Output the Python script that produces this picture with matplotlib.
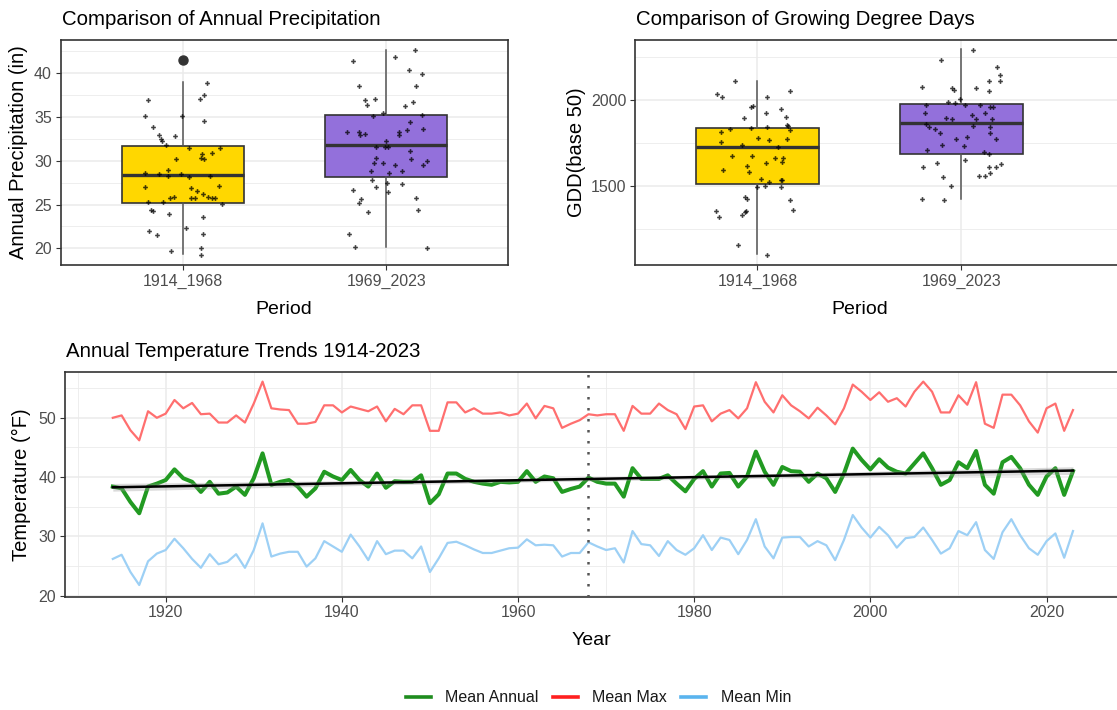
import numpy as np
import matplotlib
matplotlib.use("Agg")
import matplotlib.pyplot as plt
from matplotlib.lines import Line2D
from matplotlib.ticker import MultipleLocator, FixedLocator

plt.rcParams['font.family'] = ['Liberation Sans', 'DejaVu Sans']

# ---------------- data ----------------
periods = ['1914_1968', '1969_2023']

# annual precipitation (in): jitter offset and value of each year
precip_early_jit = [-0.172, -0.185, -0.146, -0.116, -0.105, -0.100, -0.084, -0.038, -0.005, 0.085,
                    0.105, 0.106, 0.121, 0.031, -0.033, -0.075, -0.115, -0.185, -0.185, -0.075,
                    -0.011, 0.029, 0.039, 0.072, 0.092, 0.103, 0.095, 0.143, 0.183, 0.134,
                    0.180, 0.124, 0.098, 0.061, 0.039, 0.144, 0.159, 0.193, -0.062, -0.044,
                    -0.095, -0.172, -0.157, -0.144, -0.070, -0.165, -0.128, 0.015, 0.098, 0.097,
                    -0.057, 0.092, 0.092]
precip_early = [37.0, 35.1, 33.9, 33.0, 32.5, 32.3, 31.8, 32.8, 35.1, 37.1,
                37.5, 34.6, 38.9, 31.5, 30.2, 28.9, 28.5, 28.6, 27.0, 28.3,
                28.5, 28.1, 26.9, 26.5, 30.3, 30.2, 30.8, 30.9, 31.5, 28.3,
                27.1, 25.9, 26.2, 25.7, 25.7, 25.8, 25.7, 25.1, 25.8, 25.9,
                25.3, 25.3, 24.4, 24.3, 23.9, 22.0, 21.5, 22.3, 23.6, 21.6,
                19.7, 20.0, 19.2]
precip_late_jit = [-0.161, -0.136, -0.103, -0.095, -0.057, 0.044, 0.110, 0.139, 0.175, 0.147,
                   0.090, 0.134, 0.175, 0.115, 0.102, 0.061, 0.061, 0.000, -0.018, -0.067,
                   -0.193, -0.133, -0.128, -0.106, -0.049, -0.051, -0.062, -0.074, -0.016, -0.005,
                   0.008, 0.041, 0.015, 0.077, 0.118, 0.123, 0.180, 0.200, 0.183, -0.070,
                   -0.051, 0.003, 0.007, 0.077, -0.161, -0.123, -0.136, -0.090, 0.147, 0.154,
                   -0.185, -0.152, 0.200]
precip_late = [41.4, 38.6, 36.9, 36.4, 37.1, 41.9, 40.4, 42.7, 39.9, 38.5,
               36.3, 36.7, 35.2, 34.4, 33.5, 33.3, 33.0, 32.3, 35.5, 35.1,
               33.3, 33.3, 33.0, 33.1, 31.6, 30.3, 29.7, 28.8, 29.7, 31.6,
               31.6, 29.5, 28.6, 28.8, 31.1, 30.2, 33.6, 30.0, 29.5, 27.8,
               27.0, 27.5, 26.4, 27.4, 26.7, 25.6, 25.2, 24.1, 25.7, 24.4,
               21.6, 20.2, 20.0]
# box statistics: lower whisker, Q1, median, Q3, upper whisker
precip_box = [[19.35, 25.2, 28.4, 31.7, 39.0], [20.1, 28.1, 31.8, 35.2, 42.7]]
precip_outliers = [[41.5], []]

# growing degree days (base 50)
gdd_early_jit = [-0.111, -0.196, -0.172, 0.162, 0.049, -0.021, -0.029, -0.067, 0.044, 0.114,
                 0.139, 0.147, 0.162, 0.150, 0.049, -0.033, -0.136, -0.176, -0.176, 0.003,
                 -0.074, 0.056, 0.101, 0.147, -0.124, -0.026, 0.085, 0.127, 0.121, 0.044,
                 -0.049, -0.042, -0.170, 0.018, 0.056, 0.114, 0.121, 0.036, 0.000, 0.114,
                 -0.059, -0.051, 0.162, 0.173, -0.201, -0.188, -0.074, -0.062, -0.054, -0.093,
                 0.049]
gdd_early = [2110, 2035, 2019, 2054, 2019, 1965, 1961, 1895, 1926, 1946,
             1903, 1853, 1826, 1849, 1845, 1839, 1831, 1812, 1758, 1781,
             1736, 1765, 1725, 1773, 1674, 1674, 1665, 1663, 1640, 1632,
             1618, 1583, 1591, 1543, 1525, 1535, 1535, 1502, 1496, 1492,
             1434, 1424, 1419, 1362, 1355, 1320, 1330, 1347, 1353, 1155,
             1097]
gdd_late_jit = [0.057, -0.098, 0.175, 0.188, 0.188, 0.136, -0.193, -0.044, -0.038, 0.070,
                0.136, -0.007, -0.065, -0.033, -0.175, 0.016, 0.090, 0.142, 0.155, -0.180,
                0.054, 0.114, -0.074, -0.044, 0.074, 0.152, -0.172, -0.160, -0.131, 0.057,
                0.142, -0.103, 0.142, -0.028, 0.025, 0.168, -0.095, 0.013, -0.168, 0.109,
                0.134, 0.020, -0.118, -0.188, 0.136, 0.168, 0.193, 0.142, 0.114, 0.085,
                -0.090, -0.049, -0.193, -0.085]
gdd_late = [2291, 2233, 2194, 2145, 2111, 2111, 2078, 2068, 2058, 2068,
            2054, 2004, 1986, 1981, 1969, 1969, 1969, 1961, 1961, 1923,
            1915, 1923, 1897, 1890, 1890, 1890, 1859, 1845, 1833, 1849,
            1845, 1806, 1806, 1773, 1783, 1773, 1740, 1733, 1707, 1700,
            1684, 1649, 1634, 1609, 1609, 1609, 1626, 1578, 1560, 1560,
            1552, 1502, 1426, 1419]
gdd_box = [[1105, 1512, 1729, 1837, 2112], [1423, 1688, 1868, 1977, 2295]]

# annual temperatures (°F), 1914-2023
years = np.arange(1914, 2024)
mean_max = [50.0, 50.4, 47.9, 46.2, 51.1, 50.0, 50.7, 53.0, 51.6, 52.5,
            50.6, 50.7, 49.2, 49.2, 50.4, 49.2, 52.4, 56.1, 51.6, 51.4,
            51.3, 49.0, 49.0, 49.3, 52.1, 52.1, 50.9, 51.9, 51.5, 51.1,
            51.9, 49.4, 51.5, 50.6, 52.1, 52.1, 47.8, 47.8, 52.6, 52.6,
            50.9, 51.6, 50.7, 50.7, 50.9, 50.4, 50.7, 52.4, 49.9, 52.0,
            51.6, 48.3, 49.0, 49.6, 50.6, 50.4, 50.6, 50.6, 47.8, 52.0,
            50.7, 50.7, 52.4, 51.3, 50.6, 48.1, 51.9, 52.1, 49.4, 50.7,
            51.3, 49.9, 51.6, 56.0, 52.7, 50.9, 53.8, 52.1, 51.1, 49.9,
            51.7, 50.4, 48.9, 51.6, 55.6, 54.4, 53.0, 54.3, 52.7, 53.3,
            51.9, 54.4, 56.1, 54.4, 50.9, 50.9, 53.8, 52.2, 56.0, 49.0,
            48.3, 53.9, 53.9, 52.1, 49.4, 47.5, 51.6, 52.4, 47.8, 51.3]
mean_annual = [38.4, 38.1, 35.8, 33.9, 38.4, 38.9, 39.5, 41.3, 39.8, 39.2,
               37.5, 39.2, 37.2, 37.4, 38.4, 37.0, 39.8, 44.0, 38.7, 39.2,
               39.5, 38.4, 36.7, 38.1, 40.9, 40.1, 39.5, 41.2, 39.5, 38.4,
               40.6, 38.2, 39.3, 39.2, 39.2, 40.3, 35.6, 37.1, 40.6, 40.6,
               39.7, 39.2, 38.9, 38.7, 39.2, 39.1, 39.2, 41.0, 39.2, 40.1,
               39.8, 37.5, 38.0, 38.4, 39.9, 39.2, 38.9, 38.9, 36.7, 41.5,
               39.7, 39.7, 39.7, 40.3, 38.9, 37.6, 39.7, 41.0, 38.4, 40.6,
               40.7, 38.4, 40.1, 44.3, 40.9, 38.7, 41.7, 41.0, 40.9, 39.2,
               40.6, 39.8, 37.5, 40.6, 44.8, 42.9, 41.3, 43.0, 41.6, 40.9,
               40.6, 42.3, 44.0, 41.5, 38.7, 39.5, 42.5, 41.5, 44.4, 38.7,
               37.2, 42.5, 43.4, 41.5, 38.7, 37.0, 40.1, 41.5, 37.0, 41.0]
mean_min = [26.2, 26.9, 24.0, 21.8, 25.8, 27.1, 27.7, 29.6, 28.0, 26.2,
            24.7, 27.0, 25.3, 25.7, 27.0, 24.7, 27.7, 32.2, 26.6, 27.1,
            27.4, 27.4, 24.9, 26.3, 29.2, 28.3, 27.4, 30.3, 28.3, 26.0,
            29.2, 27.0, 27.6, 27.6, 26.3, 28.3, 24.0, 26.3, 28.9, 29.1,
            28.5, 27.8, 27.2, 27.2, 27.6, 28.0, 28.1, 29.5, 28.5, 28.6,
            28.5, 26.6, 27.2, 27.2, 29.0, 28.3, 27.7, 28.0, 25.6, 30.9,
            28.7, 28.5, 26.7, 29.2, 27.7, 26.9, 28.0, 30.2, 27.7, 29.8,
            29.4, 27.0, 29.4, 32.9, 28.3, 26.3, 29.8, 29.9, 29.9, 28.3,
            29.2, 28.5, 26.0, 29.4, 33.6, 31.5, 29.8, 31.6, 30.2, 28.1,
            29.7, 29.9, 31.5, 29.4, 27.1, 28.0, 30.9, 30.2, 32.4, 27.7,
            26.2, 30.7, 32.9, 30.2, 28.0, 26.9, 29.2, 30.5, 26.4, 30.9]
split_year = 1968

# ---------------- styling ----------------
W, H = 1117, 710
BOX_COLORS = ['#FFD700', '#9370DB']
GRID = '#EBEBEB'
EDGE = '#333333'
TICKLAB = '#4D4D4D'


def rect(l, t, r, b):
    return [l / W, 1 - b / H, (r - l) / W, (b - t) / H]


def px_text(fig, x, y, s, **kw):
    fig.text(x / W, 1 - y / H, s, **kw)


def style_axes(ax):
    ax.set_axisbelow(True)
    for sp in ax.spines.values():
        sp.set_color(EDGE)
        sp.set_linewidth(1.2)
    ax.grid(True, which='major', color=GRID, lw=1.1)
    ax.grid(True, which='minor', color=GRID, lw=0.6)
    ax.tick_params(which='major', length=3.3, width=0.8, color=EDGE,
                   labelcolor=TICKLAB, labelsize=11.5, pad=3)
    ax.tick_params(which='minor', length=0)


def box_panel(ax, box, outliers, jits, vals):
    stats = []
    for i, b in enumerate(box):
        stats.append(dict(whislo=b[0], q1=b[1], med=b[2], q3=b[3], whishi=b[4],
                          fliers=outliers[i]))
    bp = ax.bxp(stats, positions=[1, 2], widths=0.6, patch_artist=True,
                showcaps=False,
                boxprops=dict(edgecolor=EDGE, lw=1.2),
                medianprops=dict(color=EDGE, lw=2.4),
                whiskerprops=dict(color='#555555', lw=1.1),
                flierprops=dict(marker='o', markersize=6.5, markerfacecolor=EDGE,
                                markeredgecolor=EDGE))
    for patch, c in zip(bp['boxes'], BOX_COLORS):
        patch.set_facecolor(c)
    for i, (jit, v) in enumerate(zip(jits, vals)):
        ax.plot(np.array(jit) + i + 1, v, ls='none', marker='P', markersize=3.4,
                markeredgewidth=0, color='black', alpha=0.75, zorder=5)
    ax.set_xlim(0.4, 2.6)
    ax.set_xticks([1, 2])
    ax.set_xticklabels(periods)


fig = plt.figure(figsize=(W / 100, H / 100), dpi=100)

# ---- precipitation box plot ----
ax1 = fig.add_axes(rect(60.7, 40, 508.3, 265))
box_panel(ax1, precip_box, precip_outliers,
          [precip_early_jit, precip_late_jit], [precip_early, precip_late])
ax1.set_ylim(18.1, 43.8)
ax1.yaxis.set_major_locator(MultipleLocator(5))
ax1.yaxis.set_minor_locator(FixedLocator(np.arange(22.5, 45, 5)))
style_axes(ax1)
px_text(fig, 62, 25, 'Comparison of Annual Precipitation', fontsize=14.7, va='baseline')
px_text(fig, 19, 152.5, 'Annual Precipitation (in)', fontsize=14.5, rotation=90,
        ha='center', va='center')
px_text(fig, 284, 314, 'Period', fontsize=14, ha='center', va='baseline')

# ---- GDD box plot ----
ax2 = fig.add_axes(rect(635, 40, 1125, 265))
box_panel(ax2, gdd_box, [[], []], [gdd_early_jit, gdd_late_jit], [gdd_early, gdd_late])
ax2.set_xlim(0.4, 0.4 + (1125 - 635) / 204.0)
ax2.set_ylim(1041, 2349)
ax2.yaxis.set_major_locator(FixedLocator([1500, 2000]))
ax2.yaxis.set_minor_locator(FixedLocator([1250, 1750, 2250]))
style_axes(ax2)
px_text(fig, 636, 25, 'Comparison of Growing Degree Days', fontsize=14.7, va='baseline')
px_text(fig, 576, 152.5, 'GDD(base 50)', fontsize=14.5, rotation=90,
        ha='center', va='center')
px_text(fig, 860, 314, 'Period', fontsize=14, ha='center', va='baseline')

# ---- temperature trends ----
ax3 = fig.add_axes(rect(64.8, 372.3, 1121, 596.7))
ax3.plot(years, mean_max, color='#FF6F6F', lw=1.6, zorder=3)
ax3.plot(years, mean_min, color='#9DD0F5', lw=1.6, zorder=3)
ax3.plot(years, mean_annual, color='#229A22', lw=2.9, zorder=4)

# linear trend of the annual mean with 95% confidence band
x = years.astype(float)
y = np.asarray(mean_annual)
slope, icpt = np.polyfit(x, y, 1)
fit = slope * x + icpt
resid = y - fit
n = len(x)
s = np.sqrt(np.sum(resid ** 2) / (n - 2))
se = s * np.sqrt(1 / n + (x - x.mean()) ** 2 / np.sum((x - x.mean()) ** 2))
ax3.fill_between(x, fit - 1.98 * se, fit + 1.98 * se, color='#999999', alpha=0.35,
                 lw=0, zorder=4.5)
ax3.plot(x, fit, color='black', lw=1.8, zorder=5)

ax3.axvline(split_year, color='#555555', lw=1.8, ls=(0, (1, 3.4)), zorder=6)

ax3.set_xlim(1908.55, 2028.45)
ax3.set_ylim(19.83, 57.67)
ax3.xaxis.set_major_locator(FixedLocator(np.arange(1920, 2030, 20)))
ax3.xaxis.set_minor_locator(FixedLocator(np.arange(1910, 2040, 20)))
ax3.yaxis.set_major_locator(FixedLocator([20, 30, 40, 50]))
ax3.yaxis.set_minor_locator(FixedLocator([25, 35, 45, 55]))
style_axes(ax3)
px_text(fig, 65.7, 356.7, 'Annual Temperature Trends 1914-2023', fontsize=14.7,
        va='baseline')
px_text(fig, 21, 484.5, 'Temperature (°F)', fontsize=14.5, rotation=90,
        ha='center', va='center')
px_text(fig, 591, 645, 'Year', fontsize=14, ha='center', va='baseline')

handles = [Line2D([], [], color='#1E8C1E', lw=2.6),
           Line2D([], [], color='#FF2020', lw=2.6),
           Line2D([], [], color='#5AB4EE', lw=2.6)]
fig.legend(handles, ['Mean Annual', 'Mean Max', 'Mean Min'], loc='center',
           bbox_to_anchor=(598.5 / W, 1 - 698 / H), ncol=3, frameon=False,
           fontsize=11.5, handlelength=1.56, handletextpad=0.9, columnspacing=0.9,
           labelcolor='#1A1A1A')

fig.savefig('out.png', dpi=100)
